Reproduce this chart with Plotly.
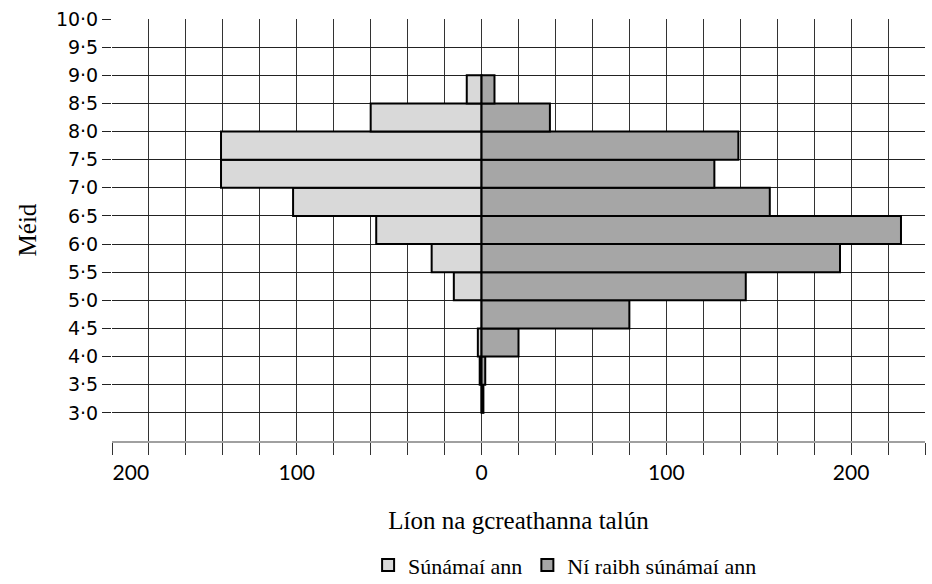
import plotly.graph_objects as go

# bins (lower edge of each 0.5-wide class)
bin_lower = [3.0, 3.5, 4.0, 4.5, 5.0, 5.5, 6.0, 6.5, 7.0, 7.5, 8.0, 8.5]
tsunami_yes = [0, 1, 2, 0, 15, 27, 57, 102, 141, 141, 60, 8]
tsunami_no = [1, 2, 20, 80, 143, 194, 227, 156, 126, 139, 37, 7]

y_ticks = [3.0, 3.5, 4.0, 4.5, 5.0, 5.5, 6.0, 6.5, 7.0, 7.5, 8.0, 8.5, 9.0, 9.5, 10.0]
y_ticktext = ["3·0", "3·5", "4·0", "4·5", "5·0", "5·5", "6·0", "6·5", "7·0", "7·5", "8·0", "8·5", "9·0", "9·5", "10·0"]
x_ticks = list(range(-200, 241, 20))
x_labelled = {-200: "\u00a0" * 7 + "200", -100: "100", 0: "0", 100: "100", 200: "200"}

bin_width = 0.5
centers = [b + bin_width / 2 for b in bin_lower]

fig = go.Figure()
fig.add_trace(go.Bar(
    y=centers, x=[-v for v in tsunami_yes], orientation="h", width=bin_width,
    name="Súnámaí ann",
    marker=dict(color="#d9d9d9", line=dict(color="#000000", width=2)),
))
fig.add_trace(go.Bar(
    y=centers, x=tsunami_no, orientation="h", width=bin_width,
    name="Ní raibh súnámaí ann",
    marker=dict(color="#a6a6a6", line=dict(color="#000000", width=2)),
))

serif = "Liberation Serif"
fig.update_layout(
    width=932, height=584,
    margin=dict(l=112, r=7, t=19, b=143),
    paper_bgcolor="white", plot_bgcolor="white",
    barmode="overlay",
    showlegend=True,
    legend=dict(orientation="h", x=0.315, xanchor="left",
                yref="container", y=0.032, yanchor="middle",
                font=dict(family=serif, size=22, color="#000"),
                itemwidth=30, tracegroupgap=0),
    xaxis=dict(
        automargin=False,
        range=[-200, 240], tickmode="array", tickvals=x_ticks,
        ticktext=[x_labelled.get(v, "") for v in x_ticks],
        showgrid=True, gridcolor="#333333", gridwidth=1,
        zeroline=False,
        showline=True, linecolor="#a0a0a0", linewidth=2,
        ticks="outside", ticklen=12, tickcolor="#333333", tickwidth=1,
        tickfont=dict(family="Lato", size=21, color="#000"),
        title=dict(text="Líon na gcreathanna talún", font=dict(family=serif, size=25, color="#000"), standoff=28),
    ),
    yaxis=dict(
        automargin=False,
        range=[2.5, 10], tickmode="array", tickvals=y_ticks, ticktext=y_ticktext,
        showgrid=True, gridcolor="#222222", gridwidth=1,
        zeroline=False, showline=False,
        ticks="outside", ticklen=9, tickcolor="#222222", tickwidth=1,
        tickfont=dict(family="DejaVu Sans", size=19, color="#000"),
        title=dict(text="Méid", font=dict(family=serif, size=25, color="#000"), standoff=12),
    ),
    yaxis2=dict(
        overlaying="y", anchor="free", position=200 / 440, side="left",
        range=[2.5, 10], tickmode="array", tickvals=[2.5] + y_ticks,
        showticklabels=False, showgrid=False, zeroline=False,
        showline=True, linecolor="#000000", linewidth=3,
        ticks="outside", ticklen=5, tickwidth=2, tickcolor="#000000",
    ),
)

fig.write_html("out.html", config={"displayModeBar": False},
               post_script="document.body.style.margin='0';document.body.style.overflow='hidden';")
